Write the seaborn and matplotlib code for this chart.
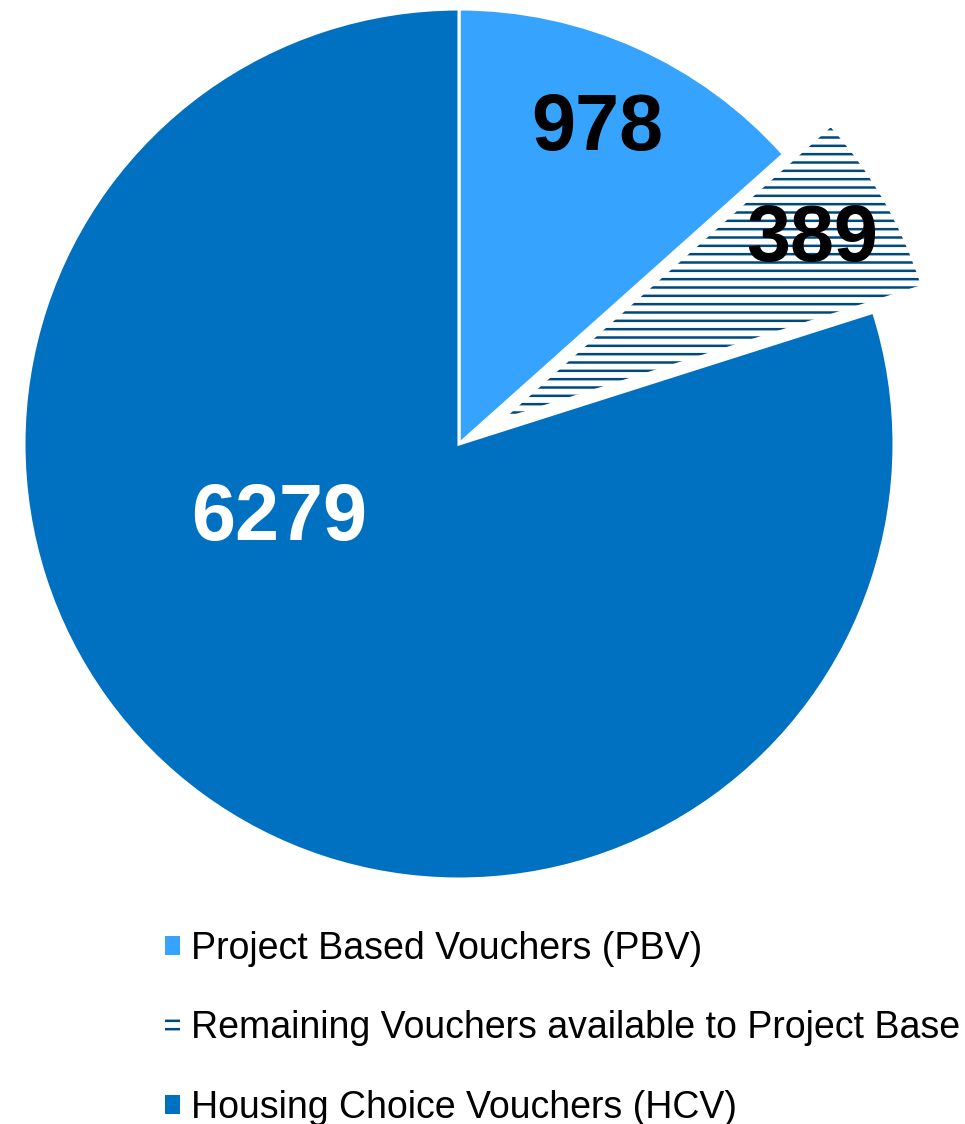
# -*- coding: utf-8 -*-

# Import libraries ======================================================================

import numpy as np
import matplotlib
matplotlib.use("Agg")
import matplotlib.pyplot as plt
from matplotlib.patches import Patch
import seaborn as sns

# Data ==================================================================================

# the middle label is cut off at the right edge in the original picture
categories = ["Project Based Vouchers (PBV)",
              "Remaining Vouchers available to Project Base",
              "Housing Choice Vouchers (HCV)"]
count_labels = ["978", "389", "6279"]
# share of the circle as drawn in the picture (the printed counts do not match the angles)
slice_share_pct = [13.4, 6.7, 79.9]
slice_colors = ["#36A3FF", "white", "#0070C0"]
hatch_color = "#00497E"

# Plot ==================================================================================

sns.set_theme(style="white")
plt.rcParams["font.family"] = ["Liberation Sans", "DejaVu Sans"]
plt.rcParams["hatch.linewidth"] = 1.8
plt.rcParams["text.color"] = "black"

fig = plt.figure(figsize=(9.65, 11.24), dpi=100)
ax = fig.add_axes([0, 224 / 1124, 1, 900 / 1124])

wedges, _ = ax.pie(slice_share_pct,
                   colors=slice_colors,
                   startangle=90,
                   counterclock=False,
                   explode=[0, 0.125, 0],
                   wedgeprops=dict(edgecolor="white", linewidth=2.2))

# the remaining vouchers slice is only hatched
wedges[1].set_hatch("--")
wedges[1].set_edgecolor(hatch_color)
wedges[1].set_linewidth(0)

# pie centre at (459, 444) px, radius 435 px
ax.set_xlim(-459 / 435, (965 - 459) / 435)
ax.set_ylim(-(900 - 444) / 435, 444 / 435)

# Value labels
label_shift = [(-0.01, 0.012), (0.008, 0.03)]
for w, lab, (dx, dy) in zip(wedges[:2], count_labels[:2], label_shift):
    mid = np.deg2rad((w.theta1 + w.theta2) / 2)
    cx, cy = w.center
    ax.text(cx + 0.8 * np.cos(mid) + dx, cy + 0.8 * np.sin(mid) + dy, lab,
            ha="center", va="center_baseline", fontsize=57, fontweight="bold", color="black")

ax.text(-0.414, -0.155, count_labels[2], ha="center", va="center_baseline",
        fontsize=57, fontweight="bold", color="white")

# Legend
handles = [Patch(facecolor=slice_colors[0], linewidth=0),
           Patch(facecolor="white", edgecolor=hatch_color, hatch="--", linewidth=0),
           Patch(facecolor=slice_colors[2], linewidth=0)]
fig.legend(handles, categories,
           loc="upper left",
           bbox_to_anchor=(165 / 965, 1 - 931 / 1124),
           frameon=False,
           fontsize=27,
           labelcolor="black",
           handlelength=0.4,
           handleheight=0.4,
           handletextpad=0.3,
           labelspacing=1.16,
           borderpad=0,
           borderaxespad=0)

plt.savefig("out.png", dpi=100)
